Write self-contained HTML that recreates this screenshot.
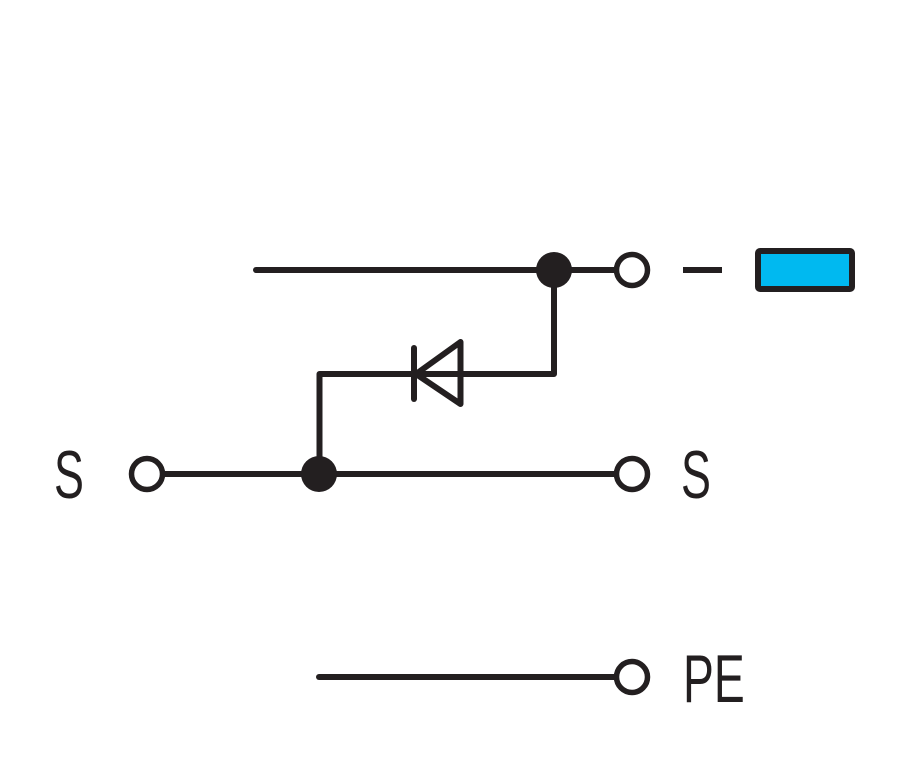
<!DOCTYPE html>
<html><head><meta charset="utf-8"><style>
html,body{margin:0;padding:0;background:#fff;}
svg{display:block;}
text{font-family:"Liberation Sans",sans-serif;fill:#231f20;}
</style></head><body>
<svg width="909" height="768" viewBox="0 0 909 768" xmlns="http://www.w3.org/2000/svg">
<g stroke="#231f20" stroke-width="6" fill="none" stroke-linecap="round" stroke-linejoin="round">
  <line x1="256" y1="270" x2="614" y2="270"/>
  <polyline points="554,270 554,374 319.5,374 319.5,474"/>
  <line x1="414" y1="348" x2="414" y2="399"/>
  <polygon points="416,374 460.5,342 460.5,404"/>
  <line x1="165" y1="474" x2="614" y2="474"/>
  <line x1="319" y1="677" x2="614" y2="677"/>
  <line x1="683" y1="270" x2="722" y2="270" stroke-linecap="butt"/>
</g>
<circle cx="554" cy="270" r="18" fill="#231f20"/>
<circle cx="319" cy="474" r="18" fill="#231f20"/>
<g stroke="#231f20" stroke-width="5.5" fill="#fff">
  <circle cx="632" cy="270" r="15.5"/>
  <circle cx="147" cy="474" r="15.5"/>
  <circle cx="632" cy="474" r="15.5"/>
  <circle cx="632" cy="677" r="15.5"/>
</g>
<rect x="758" y="251" width="94" height="38" rx="2" fill="#00b9f0" stroke="#231f20" stroke-width="6"/>
<text x="0" y="0" font-size="68" transform="translate(54,498) scale(0.66,1)">S</text>
<text x="0" y="0" font-size="68" transform="translate(681,498) scale(0.66,1)">S</text>
<text x="0" y="0" font-size="68" transform="translate(683,702) scale(0.68,1)">PE</text>
</svg>
</body></html>
